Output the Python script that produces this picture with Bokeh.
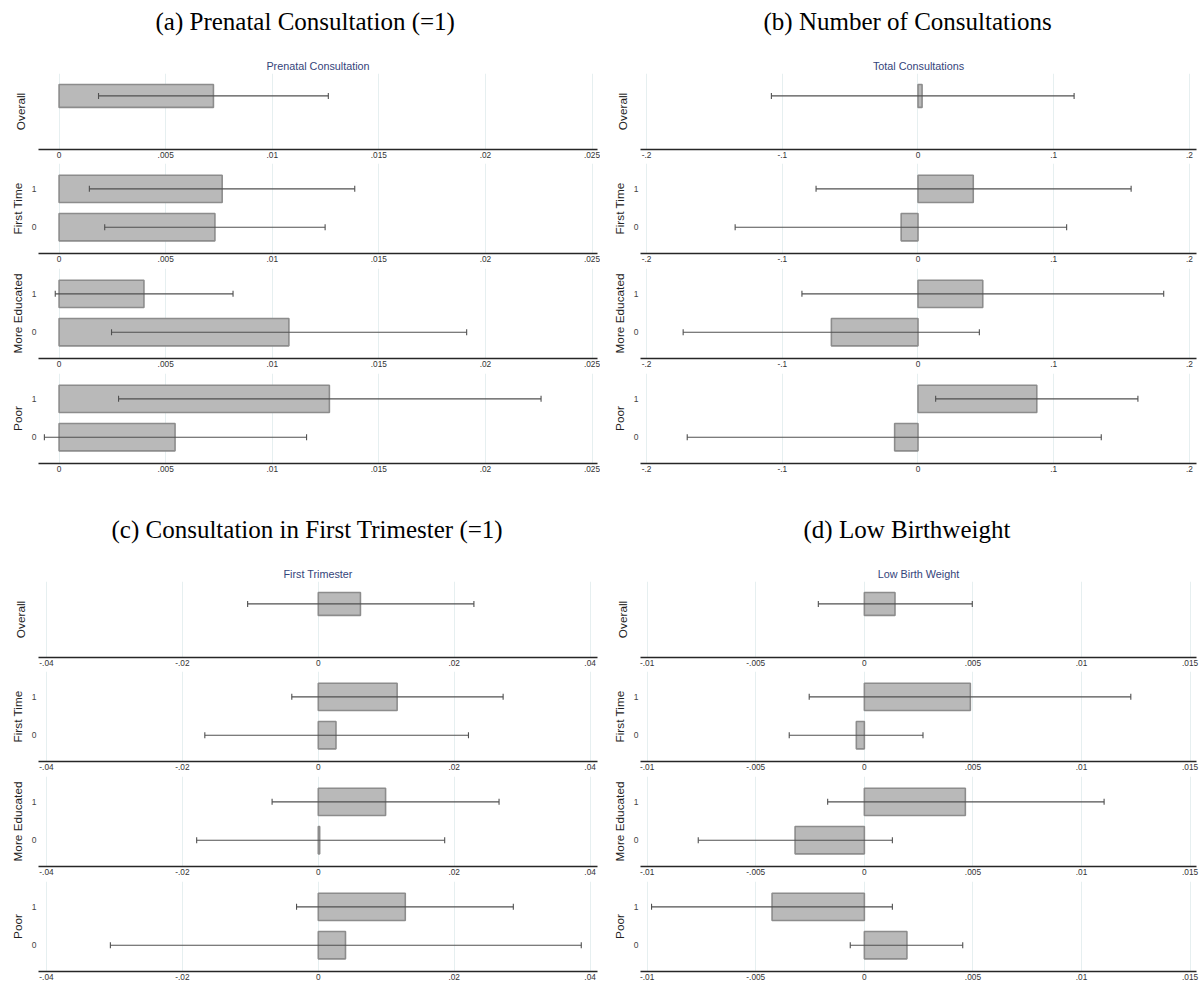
from bokeh.plotting import figure
from bokeh.layouts import column, row
from bokeh.models import (ColumnDataSource, Range1d, FixedTicker, CustomJSTickFormatter,
                          Whisker, TeeHead, Title)
from bokeh.embed import file_html
from bokeh.resources import INLINE

# ---------------------------------------------------------------- data
# Row order inside every panel: Overall, then level 1 / level 0 of each subgroup
ROW_GROUP = ["Overall", "First Time", "First Time", "More Educated", "More Educated", "Poor", "Poor"]
ROW_LEVEL = ["", "1", "0", "1", "0", "1", "0"]
GROUPS = ["Overall", "First Time", "More Educated", "Poor"]
LEVEL_POS = [1, 0]
LEVEL_LABELS = ["1", "0"]

A_TITLE = "(a) Prenatal Consultation (=1)"
A_SUBTITLE = "Prenatal Consultation"
A_EST = [0.00724, 0.00765, 0.00731, 0.00398, 0.01078, 0.01268, 0.00544]
A_LO = [0.00185, 0.00142, 0.00214, -0.00018, 0.00246, 0.00279, -0.00069]
A_HI = [0.01263, 0.01387, 0.01248, 0.00816, 0.01912, 0.02261, 0.01161]
A_TICKS = [0, 0.005, 0.01, 0.015, 0.02, 0.025]
A_TICK_LABELS = ["0", ".005", ".01", ".015", ".02", ".025"]

B_TITLE = "(b) Number of Consultations"
B_SUBTITLE = "Total Consultations"
B_EST = [0.003, 0.0407, -0.0124, 0.0477, -0.0638, 0.0875, -0.0172]
B_LO = [-0.108, -0.0751, -0.1347, -0.0855, -0.173, 0.013, -0.170]
B_HI = [0.115, 0.157, 0.1095, 0.181, 0.0452, 0.162, 0.135]
B_TICKS = [-0.2, -0.1, 0, 0.1, 0.2]
B_TICK_LABELS = ["-.2", "-.1", "0", ".1", ".2"]

C_TITLE = "(c) Consultation in First Trimester (=1)"
C_SUBTITLE = "First Trimester"
C_EST = [0.0062, 0.0116, 0.0026, 0.0099, 0.0002, 0.0128, 0.0040]
C_LO = [-0.0104, -0.0039, -0.0167, -0.0068, -0.0179, -0.0032, -0.0306]
C_HI = [0.0229, 0.0272, 0.0221, 0.0266, 0.0186, 0.0287, 0.0387]
C_TICKS = [-0.04, -0.02, 0, 0.02, 0.04]
C_TICK_LABELS = ["-.04", "-.02", "0", ".02", ".04"]

D_TITLE = "(d) Low Birthweight"
D_SUBTITLE = "Low Birth Weight"
D_EST = [0.00141, 0.00488, -0.00037, 0.00465, -0.00319, -0.00425, 0.00196]
D_LO = [-0.00212, -0.00254, -0.00346, -0.00169, -0.00765, -0.0098, -0.00065]
D_HI = [0.00497, 0.01227, 0.0027, 0.01104, 0.00129, 0.00129, 0.00453]
D_TICKS = [-0.01, -0.005, 0, 0.005, 0.01, 0.015]
D_TICK_LABELS = ["-.01", "-.005", "0", ".005", ".01", ".015"]

# ---------------------------------------------------------------- style
SANS = "Liberation Sans"
SERIF = "Liberation Serif"
BAR_FILL = "#b9b9b9"
BAR_LINE = "#8c8c8c"
CI_COLOR = "#505050"
GRID_COLOR = "#e6eff0"
AXIS_COLOR = "#262626"
SUB_COLOR = "#34447a"


def label_formatter(positions, labels):
    return CustomJSTickFormatter(args=dict(vals=list(positions), labs=list(labels)), code="""
        let best = 0, dist = Infinity;
        for (let i = 0; i < vals.length; i++) {
            const d = Math.abs(vals[i] - tick);
            if (d < dist) { dist = d; best = i; }
        }
        return labs[best];
    """)


def subplot(group, est, lo, hi, ticks, tick_labels, xr, width, left, right,
            height, bottom, title=None, subtitle=None, title_offset=0):
    overall = group == "Overall"
    idx = [i for i, g in enumerate(ROW_GROUP) if g == group]
    ys = [LEVEL_POS[LEVEL_LABELS.index(ROW_LEVEL[i])] if ROW_LEVEL[i] else 1 for i in idx]
    src = ColumnDataSource(dict(
        y=ys,
        est=[est[i] for i in idx],
        lo=[lo[i] for i in idx],
        hi=[hi[i] for i in idx],
    ))
    top = 73 if overall else 0
    yr = Range1d(-0.403, 1.587) if overall else Range1d(-0.686, 1.661)
    p = figure(width=width, height=height, x_range=Range1d(*xr), y_range=yr,
               output_backend="svg", toolbar_location=None, title=None,
               min_border_left=left, min_border_right=right,
               min_border_top=top, min_border_bottom=bottom)
    p.outline_line_color = None
    p.background_fill_color = "white"
    p.border_fill_color = "white"

    p.hbar(y="y", left=0, right="est", height=0.6 if overall else 0.713, source=src,
           fill_color=BAR_FILL, line_color=BAR_LINE, line_width=1.6)
    head = dict(size=6, line_color=CI_COLOR, line_width=1.1)
    p.add_layout(Whisker(source=src, base="y", lower="lo", upper="hi", dimension="width",
                         line_color=CI_COLOR, line_width=1.1, level="annotation",
                         lower_head=TeeHead(**head), upper_head=TeeHead(**head)))

    # x axis
    xa = p.xaxis[0]
    xa.ticker = FixedTicker(ticks=ticks)
    xa.formatter = label_formatter(ticks, tick_labels)
    xa.axis_line_color = AXIS_COLOR
    xa.axis_line_width = 1.7
    xa.major_tick_out = 0
    xa.major_tick_in = 0
    xa.minor_tick_line_color = None
    xa.major_label_standoff = 2
    xa.major_label_text_font = SANS
    xa.major_label_text_font_size = "8.3px"
    xa.major_label_text_color = "#333333"

    # y axis: subgroup name and levels
    ya = p.yaxis[0]
    ya.axis_line_color = None
    ya.major_tick_out = 0
    ya.major_tick_in = 0
    ya.minor_tick_line_color = None
    if overall:
        ya.ticker = FixedTicker(ticks=[])
        ya.axis_label_standoff = 11
    else:
        ya.ticker = FixedTicker(ticks=LEVEL_POS)
        ya.formatter = label_formatter(LEVEL_POS, LEVEL_LABELS)
        ya.axis_label_standoff = 4
    ya.major_label_standoff = 2
    ya.major_label_text_font = SANS
    ya.major_label_text_font_size = "8.5px"
    ya.major_label_text_color = "#444444"
    ya.axis_label = group
    ya.axis_label_text_font = SANS
    ya.axis_label_text_font_style = "normal"
    ya.axis_label_text_font_size = "11.8px"
    ya.axis_label_text_color = "#222222"

    p.xgrid.ticker = FixedTicker(ticks=ticks)
    p.xgrid.grid_line_color = GRID_COLOR
    p.xgrid.grid_line_width = 1
    p.ygrid.visible = False

    # header: subtitle next to the frame, a thin spacer, then the panel title on top
    if subtitle is not None:
        p.add_layout(Title(text=subtitle, align="center", text_font=SANS,
                           text_font_size="10.8px", text_font_style="normal",
                           text_color=SUB_COLOR, standoff=3), "above")
        p.add_layout(Title(text=" ", align="center", text_font=SANS,
                           text_font_size="2px", standoff=9), "above")
    if title is not None:
        p.add_layout(Title(text=title, align="left", offset=title_offset, text_font=SERIF,
                           text_font_size="25px", text_font_style="normal",
                           vertical_align="top", text_color="black", standoff=14), "above")
    return p


def panel(title, subtitle, est, lo, hi, ticks, tick_labels, xr, width, left, right,
          heights, bottoms, title_offset):
    figs = []
    for g, h, b in zip(GROUPS, heights, bottoms):
        first = g == "Overall"
        figs.append(subplot(g, est, lo, hi, ticks, tick_labels, xr, width, left, right, h, b,
                            title=title if first else None,
                            subtitle=subtitle if first else None,
                            title_offset=title_offset))
    return column(*figs, spacing=0)


TOP_H = [163, 105, 105, 135]
TOP_B = [14, 15, 15, 45]
BOT_H = [163, 105, 105, 106]
BOT_B = [14, 15, 15, 16]

pa = panel(A_TITLE, A_SUBTITLE, A_EST, A_LO, A_HI, A_TICKS, A_TICK_LABELS,
           (-0.000966, 0.025258), 600, 38, 3, TOP_H, TOP_B, 117)
pb = panel(B_TITLE, B_SUBTITLE, B_EST, B_LO, B_HI, B_TICKS, B_TICK_LABELS,
           (-0.20442, 0.20516), 603, 40, 7, TOP_H, TOP_B, 123)
pc = panel(C_TITLE, C_SUBTITLE, C_EST, C_LO, C_HI, C_TICKS, C_TICK_LABELS,
           (-0.041177, 0.041089), 600, 38, 3, BOT_H, BOT_B, 73)
pd = panel(D_TITLE, D_SUBTITLE, D_EST, D_LO, D_HI, D_TICKS, D_TICK_LABELS,
           (-0.010309, 0.015295), 603, 40, 7, BOT_H, BOT_B, 163)

layout = column(row(pa, pb, spacing=0), row(pc, pd, spacing=0), spacing=0)

with open("out.html", "w") as f:
    f.write(file_html(layout, INLINE, title="Heterogeneous effects"))
